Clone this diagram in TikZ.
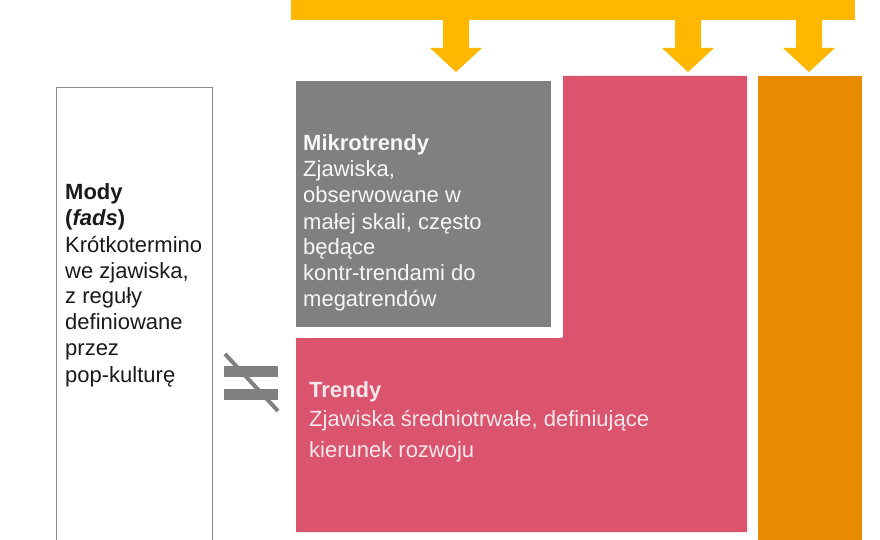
\documentclass[tikz,border=0pt]{standalone}
\usepackage{fontspec}
\setmainfont{Liberation Sans}
\definecolor{barYellow}{HTML}{FFB700}
\definecolor{pinkc}{HTML}{DA546D}
\definecolor{grayc}{HTML}{808080}
\definecolor{orangec}{HTML}{E98B00}
\definecolor{framec}{HTML}{8A8A8A}
\definecolor{txtdark}{HTML}{1A1A1A}
\definecolor{txtpink}{HTML}{FCE8EC}
\definecolor{txtgray}{HTML}{F7F7F7}
\begin{document}
\begin{tikzpicture}[x=1pt,y=-1pt,
  boxtext/.style={anchor=base west,inner sep=0pt,font=\fontsize{22}{26}\selectfont},
  yarrow/.style={fill=barYellow,draw=none}]
\useasboundingbox (0,0) rectangle (880,540);
% top bar
\node[fill=barYellow,inner sep=0pt,minimum width=564pt,minimum height=22pt,anchor=north west] (topbar) at (291,-2) {};
\coordinate (a1) at (456,20);
\coordinate (a2) at (688,20);
\coordinate (a3) at (809,20);
\foreach \c in {a1,a2,a3}{
  \fill[yarrow] ([xshift=-13pt]\c) -- ([xshift=-13pt,yshift=-28pt]\c) -- ([xshift=-26pt,yshift=-28pt]\c)
    -- ([yshift=-52pt]\c) -- ([xshift=26pt,yshift=-28pt]\c) -- ([xshift=13pt,yshift=-28pt]\c) -- ([xshift=13pt]\c) -- cycle;
}
% orange column
\node[fill=orangec,inner sep=0pt,minimum width=104pt,minimum height=470pt,anchor=north west] (orange) at (758,76) {};
% pink L-shape
\fill[fill=pinkc] (296,338) -- (559,338) .. controls (563,338) .. (563,334) -- (563,76) -- (747,76) -- (747,532) -- (296,532) -- cycle;
% gray box
\node[fill=grayc,inner sep=0pt,minimum width=255pt,minimum height=246pt,anchor=north west] (mikro) at (296,81) {};
% Mody box
\node[draw=framec,line width=1.1pt,inner sep=0pt,minimum width=156pt,minimum height=470pt,anchor=north west] (mody) at (56,87) {};
% not equal sign
\fill[fill=grayc] (224,366) rectangle (278,377);
\fill[fill=grayc] (224,389) rectangle (278,400);
\draw[draw=grayc,line width=4pt] (225,354) -- (278,411);
% texts
\node[boxtext,text=txtdark] (modyt) at (65,200) {\begin{tabular}[t]{@{}l@{}}\textbf{Mody}\\ \textbf{(\textit{fads})}\\ Krótkotermino\\ we zjawiska,\\ z reguły\\ definiowane\\ przez\\ pop-kulturę\end{tabular}};
\node[boxtext,text=txtgray] (mikrot) at (303,151) {\begin{tabular}[t]{@{}l@{}}\textbf{Mikrotrendy}\\ Zjawiska,\\ obserwowane w\\ małej skali, często\\ będące\\ kontr-trendami do\\ megatrendów\end{tabular}};
\node[boxtext,text=txtpink,font=\fontsize{22}{29}\selectfont] (trendt) at (309,397) {\begin{tabular}[t]{@{}l@{}}\textbf{Trendy}\\ Zjawiska średniotrwałe, definiujące\\[2pt] kierunek rozwoju\end{tabular}};
\end{tikzpicture}
\end{document}
